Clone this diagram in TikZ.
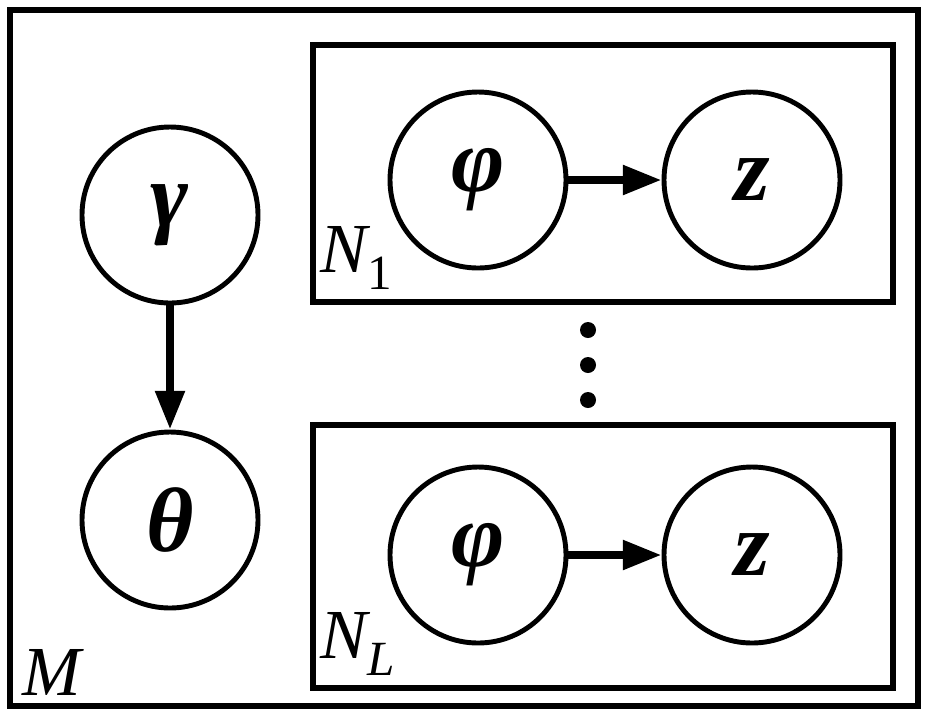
\documentclass[tikz,border=0pt]{standalone}
\usepackage{fontspec}
\setmainfont{Liberation Serif}
\usetikzlibrary{arrows.meta}
\begin{document}
\begin{tikzpicture}[x=0.02cm,y=-0.02cm,
  var/.style={circle,draw,line width=2.8pt,minimum size=176*0.02cm,inner sep=0pt,font=\fontsize{52}{52}\selectfont\bfseries\itshape},
  plate/.style={draw,line width=3pt},
  lab/.style={font=\fontsize{40}{40}\selectfont\itshape,inner sep=0pt},
  arr/.style={line width=4.5pt,-{Triangle[length=22pt,width=16pt]}},
  dot/.style={circle,fill,minimum size=16*0.02cm,inner sep=0pt}]
\useasboundingbox (0,0) rectangle (929,718);
\draw[plate] (10,10) rectangle (918,706);
\draw[plate] (313,45) rectangle (893,302);
\draw[plate] (313,425) rectangle (893,688);
\node[var] (g) at (170,215) {γ};
\node[var] (t) at (170,520) {θ};
\node[var] (p1) at (478,180) {φ};
\node[var] (z1) at (752,180) {z};
\node[var] (p2) at (478,555) {φ};
\node[var] (z2) at (752,555) {z};
\draw[arr] (g) -- (t);
\draw[arr] (p1) -- (z1);
\draw[arr] (p2) -- (z2);
\node[dot] (d1) at (588,330) {};
\node[dot] (d2) at (588,365) {};
\node[dot] (d3) at (588,400) {};
\node[lab,anchor=south west] (n1) at (320,290) {N\textsubscript{\upshape 1}};
\node[lab,anchor=south west] (nl) at (320,676) {N\textsubscript{L}};
\node[lab,anchor=south west] (m) at (22,696) {M};
\end{tikzpicture}
\end{document}
